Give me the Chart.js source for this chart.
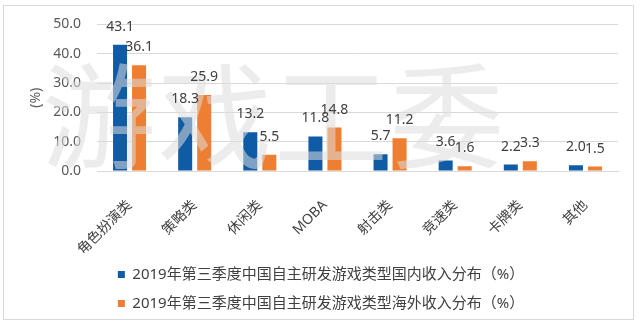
<!DOCTYPE html>
<html>
<head>
<meta charset="utf-8">
<script src="https://cdn.jsdelivr.net/npm/chart.js@4.4.1/dist/chart.umd.min.js"></script>
<style>
  html, body { margin: 0; padding: 0; background: #fff; }
  #wrap { width: 640px; height: 326px; position: relative; }
</style>
</head>
<body>
<div id="wrap"><canvas id="c"></canvas></div>
<script>
// 数据
const categories = ['角色扮演类', '策略类', '休闲类', 'MOBA', '射击类', '竞速类', '卡牌类', '其他'];
const domestic = [43.1, 18.3, 13.2, 11.8, 5.7, 3.6, 2.2, 2.0];
const overseas = [36.1, 25.9, 5.5, 14.8, 11.2, 1.6, 3.3, 1.5];
const seriesNames = [
  '2019年第三季度中国自主研发游戏类型国内收入分布（%）',
  '2019年第三季度中国自主研发游戏类型海外收入分布（%）'
];
const yTicks = [0, 10, 20, 30, 40, 50];
const watermark = '游戏工委';

const FONT = '"Noto Sans", "Noto Sans CJK SC", sans-serif';
const BLUE = '#0f5ba6';
const ORANGE = '#ee7e32';

// 边框 + 水印 + 数据标签
const decor = {
  id: 'decor',
  beforeDraw(chart) {
    const ctx = chart.ctx;
    ctx.save();
    ctx.strokeStyle = '#d9d9d9';
    ctx.lineWidth = 1;
    ctx.strokeRect(3.5, 5.5, 630, 314);
    ctx.restore();
  },
  afterDatasetsDraw(chart) {
    const ctx = chart.ctx;
    ctx.save();
    ctx.font = '114px "Noto Sans CJK SC", sans-serif';
    ctx.fillStyle = 'rgba(220,220,220,0.55)';
    ctx.textBaseline = 'middle';
    ctx.textAlign = 'left';
    const chars = watermark.split('');
    chars.forEach((ch, i) => ctx.fillText(ch, 42 + i * 116, 116));

    ctx.font = '14px ' + FONT;
    ctx.fillStyle = '#404040';
    ctx.textAlign = 'center';
    chart.data.datasets.forEach((ds, di) => {
      chart.getDatasetMeta(di).data.forEach((bar, i) => {
        ctx.fillText(ds.data[i].toFixed(1), bar.x, bar.y - 18);
      });
    });
    ctx.restore();
  }
};

new Chart(document.getElementById('c'), {
  type: 'bar',
  data: {
    labels: categories,
    datasets: [
      { label: seriesNames[0], data: domestic, backgroundColor: BLUE },
      { label: seriesNames[1], data: overseas, backgroundColor: ORANGE }
    ]
  },
  options: {
    responsive: true,
    maintainAspectRatio: false,
    animation: false,
    layout: { padding: { left: 24, right: 22, top: 22, bottom: 5 } },
    datasets: { bar: { categoryPercentage: 0.584, barPercentage: 0.737 } },
    scales: {
      x: {
        grid: { display: false },
        border: { display: true, color: '#d9d9d9' },
        ticks: { maxRotation: 45, minRotation: 45, color: '#404040', font: { family: FONT, size: 14 }, padding: 18 },
        afterFit(s) { s.height = 82; }
      },
      y: {
        min: 0, max: 50,
        afterBuildTicks(s) { s.ticks = yTicks.map(v => ({ value: v })); },
        grid: { color: '#d9d9d9', drawTicks: false },
        border: { display: false },
        ticks: { color: '#595959', font: { family: FONT, size: 14 }, padding: 16, callback: v => Number(v).toFixed(1) },
        title: { display: true, text: '(%)', color: '#595959', font: { family: FONT, size: 14 }, padding: { top: 4, bottom: 0 } },
        afterFit(s) { s.width = 73; }
      }
    },
    plugins: {
      legend: {
        position: 'bottom',
        labels: { boxWidth: 7, boxHeight: 7, padding: 14, color: '#404040', font: { family: FONT, size: 15 } }
      },
      tooltip: { enabled: false }
    }
  },
  plugins: [decor]
});
</script>
</body>
</html>
